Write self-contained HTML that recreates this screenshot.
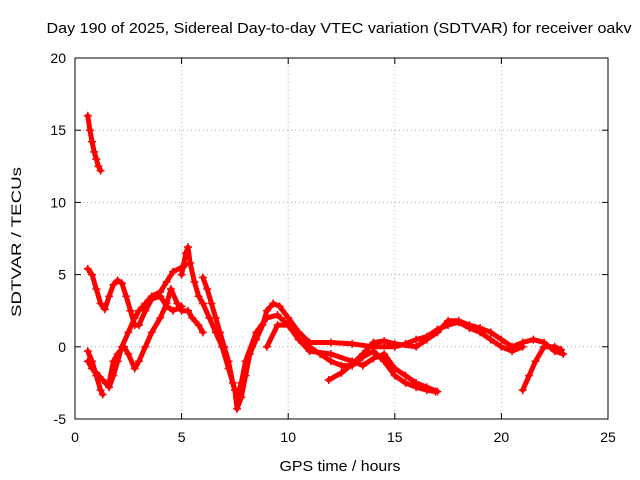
<!DOCTYPE html>
<html><head><meta charset="utf-8"><style>
body{margin:0;background:#fff}
svg{display:block;font-family:"Liberation Sans",sans-serif}
</style></head><body>
<svg id="chart" width="640" height="480">
<text x="339" y="33" font-size="15" textLength="585" lengthAdjust="spacingAndGlyphs" text-anchor="middle">Day 190 of 2025, Sidereal Day-to-day VTEC variation (SDTVAR) for receiver oakv</text>
<text x="340" y="471" font-size="15" textLength="121" lengthAdjust="spacingAndGlyphs" text-anchor="middle">GPS time / hours</text>
<text x="21" y="242" font-size="14" textLength="150" lengthAdjust="spacingAndGlyphs" text-anchor="middle" transform="rotate(-90 21 242)">SDTVAR / TECUs</text>
<g id="grid"></g><g id="ticks"></g><g id="series"></g>
<rect x="75" y="58" width="533" height="361" fill="none" stroke="#000"/>
</svg>
<script>
const xTicks=[0,5,10,15,20,25];
const yTicks=[-5,0,5,10,15,20];
const s1=[[0.6,16],[0.7,15],[0.8,14.2],[0.9,13.5],[1.0,13],[1.1,12.5],[1.2,12.2]];
const s2=[[0.6,5.4],[0.8,5],[1.0,4],[1.2,3],[1.4,2.6],[1.6,3.5],[1.8,4.3],[2.0,4.6],[2.2,4.4],[2.4,3.5],[2.6,2.5],[2.8,1.5],[3.0,1.5],[3.3,2.5],[3.6,3.3],[4.0,3.5],[4.3,2.8],[4.6,2.5],[5.0,2.8]];
const s3=[[0.6,-0.3],[0.8,-1],[1.0,-2],[1.2,-3],[1.3,-3.3]];
const s4=[[0.6,-1],[0.8,-1.5],[1.0,-1.8],[1.3,-2.3],[1.6,-2.8],[1.8,-2],[2.0,-1],[2.2,0],[2.5,1],[2.8,2],[3.0,2.5],[3.3,3],[3.6,3.5],[4.0,3.8],[4.3,4.5],[4.6,5.2],[5.0,5.5],[5.2,5.7]];
const s5=[[1.6,-2.5],[1.8,-1],[2.0,-0.5],[2.3,0],[2.5,-0.5],[2.8,-1.5],[3.0,-1],[3.3,0],[3.6,1],[4.0,2],[4.3,3],[4.5,4],[4.8,3],[5.0,2.5],[5.3,2.5],[5.5,2],[5.8,1.5],[6.0,1]];
const s6=[[5.0,5],[5.2,6.5],[5.3,6.9],[5.4,5.8],[5.6,4.5],[5.8,3.5],[6.0,3],[6.3,2],[6.6,1],[6.9,0],[7.2,-1.5],[7.5,-3],[7.6,-4.3],[7.8,-3.5],[8.0,-2],[8.2,-0.5],[8.5,0.5],[8.8,1.5],[9.0,2.5],[9.3,3],[9.6,2.8],[10,2],[10.5,1],[11,0.3],[12,0.3],[13,0.2],[14,0],[15,0],[15.5,0.2],[16,0.5],[16.5,0.7],[17,1.2],[17.5,1.5],[18,1.7],[18.5,1.3],[19,1],[19.5,0.5],[20,0],[20.5,-0.3],[21,0]];
const s7=[[6.0,4.8],[6.2,4],[6.4,3],[6.6,2],[6.8,1],[7.0,0],[7.2,-1],[7.4,-2.5],[7.6,-3.5],[7.8,-2.5],[8.0,-1],[8.5,1],[9.0,2],[9.5,2.2],[10,1.5],[10.5,0.5],[11,0],[11.5,-0.5],[12,-1],[12.5,-1.3],[13,-1.3],[13.5,-0.7],[14,-0.3],[14.5,-1],[15,-2],[15.5,-2.5],[16,-2.8],[16.5,-3],[16.9,-3.1]];
const s8=[[11.9,-2.3],[12.5,-1.8],[13,-1.2],[13.5,-0.5],[14,0.3],[14.5,0.4],[15,0.2],[16,0],[16.5,0.5],[17,1],[17.5,1.8],[18,1.8],[18.5,1.5],[19,1.3],[19.5,1],[20,0.5],[20.5,0],[21,0.3],[21.5,0.5],[22,0.3],[22.5,-0.3],[22.9,-0.5]];
const s9=[[9,0],[9.5,1.5],[10,1.5],[10.5,0.5],[11,-0.3],[12,-0.5],[13,-1],[13.5,-1.3],[14,-0.8],[14.5,-0.5],[15,-1.5],[15.5,-2],[16,-2.5],[16.5,-2.8],[17,-3.1]];
const s10=[[21.0,-3],[21.3,-2],[21.6,-1],[22,0],[22.5,0],[22.8,-0.2]];
const allSeries=[s1,s2,s3,s4,s5,s6,s7,s8,s9,s10];
const X=v=>75+v*533/25, Y=v=>419-(v+5)*361/25;
const NS="http://www.w3.org/2000/svg";
const mk=(t,a,p)=>{const e=document.createElementNS(NS,t);for(const k in a)e.setAttribute(k,a[k]);p.appendChild(e);return e;};
const grid=document.getElementById('grid'),ticks=document.getElementById('ticks'),ser=document.getElementById('series');
xTicks.forEach(v=>{
 if(v>0&&v<25){const g=mk('line',{x1:X(v),x2:X(v),y1:58,y2:419,stroke:'#aaa','stroke-dasharray':'1,3'},grid);
 }
 mk('line',{x1:X(v),x2:X(v),y1:419,y2:413,stroke:'#000'},ticks);mk('line',{x1:X(v),x2:X(v),y1:58,y2:64,stroke:'#000'},ticks);
 const t=mk('text',{x:X(v),y:442,'font-size':14,'text-anchor':'middle'},ticks);t.textContent=v;
 
});
yTicks.forEach(v=>{
 if(v>-5&&v<20){const g=mk('line',{x1:75,x2:608,y1:Y(v),y2:Y(v),stroke:'#aaa','stroke-dasharray':'1,3'},grid);
 }
 mk('line',{x1:75,x2:81,y1:Y(v),y2:Y(v),stroke:'#000'},ticks);mk('line',{x1:602,x2:608,y1:Y(v),y2:Y(v),stroke:'#000'},ticks);
 const t=mk('text',{x:66,y:Y(v)+5,'font-size':14,'text-anchor':'end'},ticks);t.textContent=v;
 
});
allSeries.forEach(s=>{
 const p=mk('polyline',{points:s.map(d=>X(d[0])+','+Y(d[1])).join(' '),fill:'none',stroke:'#f00','stroke-width':5,'stroke-linejoin':'round','stroke-linecap':'round'},ser);
 
 
 s.forEach(d=>{
  const m=mk('path',{d:`M${X(d[0])-4},${Y(d[1])}h8M${X(d[0])},${Y(d[1])-4}v8`,stroke:'#f00','stroke-width':1.5},ser);
  
  
 });
});
</script>
</body></html>
